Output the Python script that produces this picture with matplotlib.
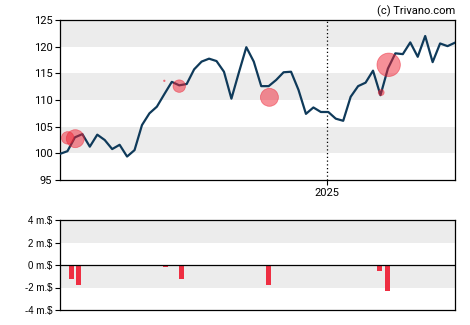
import numpy as np
import pandas as pd
import matplotlib
matplotlib.use("Agg")
import matplotlib.pyplot as plt
import matplotlib.dates as mdates

# weekly closing prices
start_date = "2024-04-25"
prices = [99.9, 100.4, 103.0, 103.6, 101.25, 103.5, 102.5, 100.8, 101.6, 99.4,
          100.6, 105.3, 107.5, 108.75, 111.1, 113.4, 112.75, 113.0, 115.75, 117.2,
          117.75, 117.3, 115.3, 110.25, 115.15, 119.9, 117.2, 112.6, 112.6, 113.75,
          115.2, 115.3, 111.9, 107.4, 108.6, 107.75, 107.75, 106.5, 106.1, 110.6,
          112.6, 113.25, 115.5, 110.9, 115.9, 118.75, 118.6, 120.8, 118.1, 122.0,
          117.1, 120.6, 120.1, 120.75]

# insider sales: bubble position (weeks from start), trade price, value in m.$
bubble_week = [1.03, 2.05, 14.0, 16.0, 28.1, 43.1, 44.1]
bar_week = [1.5, 2.48, 14.2, 16.26, 28.0, 42.9, 44.0]
trade_price = [102.9, 102.75, 113.6, 112.6, 110.5, 111.4, 116.6]
trade_value = [-1.22, -1.76, -0.15, -1.22, -1.76, -0.57, -2.29]

price_ticks = [95, 100, 105, 110, 115, 120, 125]
value_ticks = [-4, -2, 0, 2, 4]
value_labels = ["-4 m.$", "-2 m.$", "0 m.$", "2 m.$", "4 m.$"]

dates = pd.date_range(start_date, periods=len(prices), freq="7D")
t0 = mdates.date2num(dates[0])
bubble_x = [t0 + w * 7 for w in bubble_week]
bar_x = [t0 + w * 7 for w in bar_week]

plt.rcParams["font.family"] = ["Roboto", "DejaVu Sans"]

fig = plt.figure(figsize=(4.7, 3.25), dpi=100)
ax = fig.add_axes([60 / 470, 1 - 180 / 325, 395 / 470, 160 / 325])
ax2 = fig.add_axes([60 / 470, 1 - 310 / 325, 395 / 470, 90 / 325])

band = "#ececec"
for lo in (100, 110, 120):
    ax.axhspan(lo, lo + 5, color=band, lw=0, zorder=0)

ax.plot(dates, prices, color="#0f3a5a", lw=1.6, zorder=3)
sizes = [54 * v * v for v in trade_value]
ax.scatter(bubble_x, trade_price, s=sizes, color="#ee2233", alpha=0.5,
           edgecolors="#ee2233", linewidths=0.6, zorder=4)

ax.axvline(mdates.datestr2num("2025-01-01"), color="black", lw=0.9,
           ls=(0, (1, 2)), zorder=2)

ax.set_xlim(dates[0], dates[-1])
ax.set_ylim(95, 125)
ax.set_yticks(price_ticks)
ax.set_xticks([mdates.datestr2num("2025-01-01")])
ax.set_xticklabels(["2025"])
ax.tick_params(axis="both", labelsize=8, length=3.5, width=0.8, pad=2,
               colors="black")
for s in ax.spines.values():
    s.set_linewidth(0.9)

ax.text(1.0, 1.02, "(c) Trivano.com", transform=ax.transAxes, ha="right",
        va="bottom", fontsize=8)

# insider trade values
for lo in (-2, 2):
    ax2.axhspan(lo, lo + 2, color=band, lw=0, zorder=0)
ax2.bar(bar_x, trade_value, width=4.7, color="#ee2e42", zorder=3)
ax2.axhline(0, color="black", lw=0.9, zorder=4)
ax2.set_xlim(dates[0], dates[-1])
ax2.set_ylim(-4, 4)
ax2.set_yticks(value_ticks)
ax2.set_yticklabels(value_labels, family=["Liberation Sans", "DejaVu Sans"])
ax2.set_xticks([])
ax2.tick_params(axis="y", labelsize=7, length=3.5, width=0.8, pad=2)
for s in ax2.spines.values():
    s.set_linewidth(0.9)

fig.savefig("out.png", dpi=100)
